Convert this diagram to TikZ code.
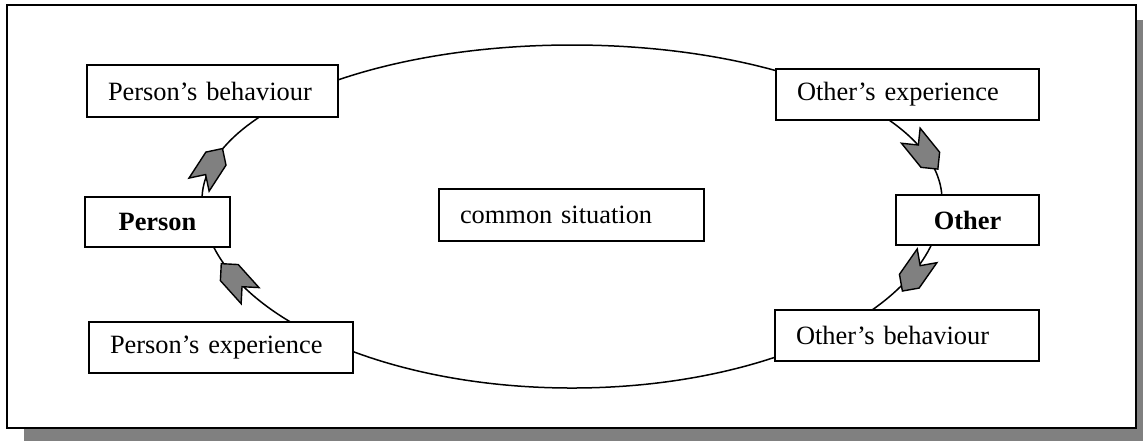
\documentclass[tikz,border=0pt]{standalone}
\usepackage{fontspec}
\setmainfont{Liberation Serif}
\definecolor{shadowgray}{RGB}{128,128,128}
\begin{document}
\begin{tikzpicture}[x=0.5pt,y=-0.5pt,
  font=\fontsize{13.2}{15}\selectfont,
  box/.style={draw, fill=white, line width=0.9pt, inner ysep=0pt, inner xsep=10.5pt, align=left},
  cbox/.style={draw, fill=white, line width=0.9pt, inner sep=0pt, align=center, font=\fontsize{13.2}{15}\selectfont\bfseries},
  curve/.style={line width=0.75pt},
  chev/.pic={\draw[fill=shadowgray, line width=0.7pt, line join=miter]
     (-21,12) -- (-9,0) -- (-21,-12) -- (10,-12) -- (22,0) -- (10,12) -- cycle;}
]
\useasboundingbox (0,0) rectangle (1143,441);
\fill[shadowgray] (24,20) rectangle (1143,441);
\draw[line width=1pt, fill=white] (7,5) rectangle (1136,428);
% common ring behind the boxes
\draw[curve] (942,200) arc[start angle=0,end angle=180,x radius=185pt,y radius=77.5pt]
  arc[start angle=180,end angle=360,x radius=185pt,y radius=94pt];
% boxes
\node[box, text width=104.5pt, minimum height=26pt] (pb) at (212.5,91) {Person’s behaviour};
\node[cbox, minimum width=72.5pt, minimum height=25pt] (p) at (157.5,222) {Person};
\node[box, text width=111pt, minimum height=25.5pt] (pe) at (221,347.5) {Person’s experience};
\node[box, text width=111.5pt, minimum height=26pt] (cs) at (571.5,215) {common situation};
\node[box, text width=110.5pt, minimum height=25.5pt] (oe) at (907.5,94.5) {Other’s experience};
\node[cbox, minimum width=71.5pt, minimum height=25pt] (o) at (967.5,220) {Other};
\node[box, text width=111pt, minimum height=25.5pt] (ob) at (907,335.5) {Other’s behaviour};
% chevron arrows on the ring
\pic[rotate=57] at (210.5,167) {chev};
\pic[rotate=132] at (236,280) {chev};
\pic[rotate=-51] at (924,152) {chev};
\pic[rotate=-125] at (915,273) {chev};
\end{tikzpicture}
\end{document}
